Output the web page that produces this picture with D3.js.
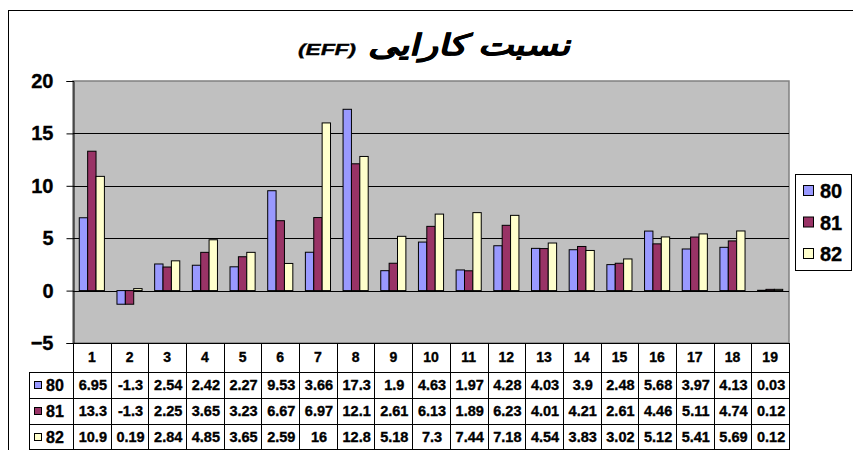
<!DOCTYPE html>
<html>
<head>
<meta charset="UTF-8">
<title>EFF</title>
<script src="https://d3js.org/d3.v7.min.js"></script>
<style>
  body { margin: 0; background: #fff; }
  text { font-family: "Liberation Sans", Arial, sans-serif; font-weight: bold; fill: #000; stroke: #000; stroke-width: 0.35px; }
</style>
</head>
<body>
<svg width="853" height="450"></svg>
<script>
var categories = ["1","2","3","4","5","6","7","8","9","10","11","12","13","14","15","16","17","18","19"]
var seriesNames = ["80", "81", "82"]
var s80 = [6.95, -1.3, 2.54, 2.42, 2.27, 9.53, 3.66, 17.3, 1.9, 4.63, 1.97, 4.28, 4.03, 3.9, 2.48, 5.68, 3.97, 4.13, 0.03]
var s81 = [13.3, -1.3, 2.25, 3.65, 3.23, 6.67, 6.97, 12.1, 2.61, 6.13, 1.89, 6.23, 4.01, 4.21, 2.61, 4.46, 5.11, 4.74, 0.12]
var s82 = [10.9, 0.19, 2.84, 4.85, 3.65, 2.59, 16, 12.8, 5.18, 7.3, 7.44, 7.18, 4.54, 3.83, 3.02, 5.12, 5.41, 5.69, 0.12]
var yTicks = [-5, 0, 5, 10, 15, 20]
var colors = ["#9999FF", "#993366", "#FFFFCC"]

var seriesValues = [s80, s81, s82]

var svg = d3.select("svg")

// chart frame (runs off the right and bottom edges)
svg.append("rect")
  .attr("x", 8.5).attr("y", 10.5)
  .attr("width", 900).attr("height", 500)
  .attr("fill", "#fff").attr("stroke", "#000")

var x = d3.scaleBand().domain(categories).range([73, 789])
var xs = d3.scaleBand().domain(seriesNames).range([0, x.bandwidth()]).paddingOuter(0.75)
var y = d3.scaleLinear().domain([-5, 20]).range([343, 81])

// plot area
svg.append("rect")
  .attr("x", 73).attr("y", 81)
  .attr("width", 716).attr("height", 262)
  .attr("fill", "#C0C0C0").attr("stroke", "#808080").attr("stroke-width", 1.5)

// gridlines
svg.append("g").selectAll("line")
  .data(yTicks.filter(function(t) { return t > -5 && t < 20 }))
  .enter().append("line")
  .attr("x1", 73).attr("x2", 789)
  .attr("y1", function(d) { return Math.round(y(d)) + 0.5 })
  .attr("y2", function(d) { return Math.round(y(d)) + 0.5 })
  .attr("stroke", "#000")

// bars
var g = svg.append("g")
seriesNames.forEach(function(name, i) {
  g.selectAll(".bar" + i)
    .data(seriesValues[i])
    .enter().append("rect")
    .attr("class", "bar" + i)
    .attr("x", function(d, j) { return x(categories[j]) + xs(name) })
    .attr("y", function(d) { return y(Math.max(0, d)) })
    .attr("width", xs.bandwidth())
    .attr("height", function(d) { return Math.abs(y(d) - y(0)) })
    .attr("fill", colors[i])
    .attr("stroke", "#000")
    .attr("stroke-width", 1)
})

// y axis
var yAxis = svg.append("g")
  .attr("transform", "translate(73.5,0)")
  .call(d3.axisLeft(y).tickValues(yTicks).tickSize(7).tickPadding(13))
yAxis.select(".domain").attr("stroke", "#000")
yAxis.selectAll(".tick line").attr("stroke", "#000")
yAxis.selectAll(".tick text")
  .attr("font-family", "Liberation Sans, Arial, sans-serif")
  .attr("font-weight", "bold")
  .attr("font-size", 20)
  .attr("fill", "#000")

// data table
var rowTops = [372, 398, 424]
var tableBottom = 450
var tbl = svg.append("g")

// header row with category labels
tbl.append("line").attr("x1", 73).attr("x2", 789).attr("y1", 343.5).attr("y2", 343.5).attr("stroke", "#000")
tbl.selectAll(".vline")
  .data(categories.concat(["end"]))
  .enter().append("line")
  .attr("x1", function(d, j) { return Math.round(73 + j * x.step()) + 0.5 })
  .attr("x2", function(d, j) { return Math.round(73 + j * x.step()) + 0.5 })
  .attr("y1", 343).attr("y2", tableBottom)
  .attr("stroke", "#000")
tbl.selectAll(".cat")
  .data(categories)
  .enter().append("text")
  .attr("x", function(d) { return x(d) + x.bandwidth() / 2 })
  .attr("y", 362)
  .attr("text-anchor", "middle")
  .attr("font-size", 14)
  .text(function(d) { return d })

// horizontal lines of the data rows
tbl.selectAll(".hline")
  .data(rowTops.concat([tableBottom - 1]))
  .enter().append("line")
  .attr("x1", 29).attr("x2", 789)
  .attr("y1", function(d) { return d + 0.5 })
  .attr("y2", function(d) { return d + 0.5 })
  .attr("stroke", "#000")
tbl.append("line").attr("x1", 29.5).attr("x2", 29.5).attr("y1", 372).attr("y2", tableBottom).attr("stroke", "#000")

seriesNames.forEach(function(name, i) {
  var top = rowTops[i]
  tbl.append("rect")
    .attr("x", 34.5).attr("y", top + 9.5)
    .attr("width", 7).attr("height", 7)
    .attr("fill", colors[i]).attr("stroke", "#000")
  tbl.append("text")
    .attr("x", 46).attr("y", top + 19)
    .attr("font-size", 16)
    .text(name)
  tbl.selectAll(".val" + i)
    .data(seriesValues[i])
    .enter().append("text")
    .attr("x", function(d, j) { return x(categories[j]) + x.bandwidth() / 2 + 1 })
    .attr("y", top + 18)
    .attr("text-anchor", "middle")
    .attr("font-size", 14.5)
    .text(function(d) { return String(d) })
})

// legend
var leg = svg.append("g")
leg.append("rect")
  .attr("x", 795.5).attr("y", 174.5)
  .attr("width", 56).attr("height", 96)
  .attr("fill", "#fff").attr("stroke", "#000")
seriesNames.forEach(function(name, i) {
  var cy = 191 + i * 31.5
  leg.append("rect")
    .attr("x", 803.5).attr("y", cy - 5.5)
    .attr("width", 10).attr("height", 10)
    .attr("fill", colors[i]).attr("stroke", "#000")
  leg.append("text")
    .attr("x", 820).attr("y", cy + 7)
    .attr("font-size", 20)
    .text(name)
})

// title, slanted with skewX
svg.append("text")
  .attr("transform", "translate(570,55) skewX(-14)")
  .attr("text-anchor", "end")
  .attr("font-family", "DejaVu Sans, sans-serif")
  .attr("font-weight", "bold")
  .attr("font-size", 29)
  .attr("stroke-width", 1)
  .attr("textLength", 202)
  .attr("lengthAdjust", "spacingAndGlyphs")
  .text("نسبت کارایی")
svg.append("text")
  .attr("transform", "translate(297,55) skewX(-14)")
  .attr("font-family", "DejaVu Sans, sans-serif")
  .attr("font-weight", "bold")
  .attr("font-size", 16)
  .attr("stroke-width", 0.8)
  .attr("textLength", 58)
  .attr("lengthAdjust", "spacingAndGlyphs")
  .text("(EFF)")
</script>
</body>
</html>
